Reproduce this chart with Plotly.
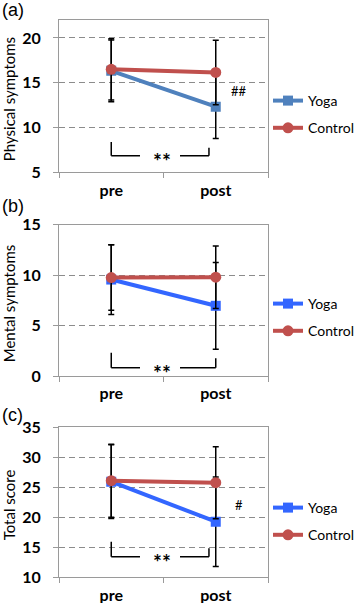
import plotly.graph_objects as go

# ---------------- data ----------------
categories = ["pre", "post"]
series_names = ["Yoga", "Control"]

phys_yoga = [16.33, 12.33]
phys_yoga_err = [3.45, 3.55]
phys_ctrl = [16.5, 16.15]
phys_ctrl_err = [3.42, 3.6]

ment_yoga = [9.55, 6.95]
ment_yoga_err = [3.45, 4.3]
ment_ctrl = [9.75, 9.78]
ment_ctrl_err = [3.25, 3.1]

total_yoga = [25.93, 19.27]
total_yoga_err = [6.15, 7.45]
total_ctrl = [26.1, 25.77]
total_ctrl_err = [6.08, 6.0]

y_titles = ["Physical symptoms", "Mental symptoms", "Total score"]
panel_labels = ["(a)", "(b)", "(c)"]
y_ranges = [[5, 22], [0, 15], [10, 35]]
y_tickvals = [[5, 10, 15, 20], [0, 5, 10, 15], [10, 15, 20, 25, 30, 35]]
sig_within = ["**", "**", "**"]
sig_between = ["##", "", "#"]

# bracket geometry per panel (data units): left-top y, right-top y, bottom y, right x
bracket_left_top = [8.38, 2.31, 15.93]
bracket_right_top = [7.74, 1.75, 14.83]
bracket_bottom = [6.86, 0.82, 13.43]
bracket_right_x = [0.935, 1.0, 0.935]
between_y = [14.08, None, 22.05]

panels = [
    (phys_yoga, phys_yoga_err, phys_ctrl, phys_ctrl_err),
    (ment_yoga, ment_yoga_err, ment_ctrl, ment_ctrl_err),
    (total_yoga, total_yoga_err, total_ctrl, total_ctrl_err),
]

# ---------------- style ----------------
W, H = 358, 603
FONT = "Lato"
yoga_colors = ["#4F81BD", "#3366FF", "#3366FF"]
ctrl_color = "#C0504D"
frame_color = "#9A9A9A"
grid_color = "#8C8C8C"

plot_left, plot_right = 59, 268
panel_tops = [20, 224.5, 427.3]
panel_bottoms = [172.3, 376, 577.3]
legend_tops = [85, 288, 492]
label_centers = [10, 206, 415]


def xd(px):
    return px / W


def yd(px):
    return 1 - px / H


xs = list(range(len(categories)))
fig = go.Figure()
shapes = []
annotations = []

for i, (yv, ye, cv, ce) in enumerate(panels):
    n = "" if i == 0 else str(i + 1)
    xa, ya = "x" + n, "y" + n
    lg = "legend" + n
    fig.add_trace(go.Scatter(
        x=xs, y=yv, name=series_names[0], xaxis=xa, yaxis=ya, legend=lg,
        legendgroup="yoga" + n,
        mode="lines+markers",
        line=dict(color=yoga_colors[i], width=4),
        marker=dict(symbol="square", size=10, color=yoga_colors[i]),
        error_y=dict(type="data", array=ye, color="black", thickness=1.5, width=3),
    ))
    fig.add_trace(go.Scatter(
        x=xs, y=cv, name=series_names[1], xaxis=xa, yaxis=ya, legend=lg,
        legendgroup="ctrl" + n,
        mode="lines+markers",
        line=dict(color=ctrl_color, width=4),
        marker=dict(symbol="circle", size=11, color=ctrl_color),
        error_y=dict(type="data", array=ce, color="black", thickness=1.5, width=3),
    ))

    xkey = "xaxis" + n
    ykey = "yaxis" + n
    fig.update_layout({
        xkey: dict(
            domain=[xd(plot_left), xd(plot_right)], anchor=ya,
            range=[-0.5, len(categories) - 0.5],
            tickmode="array", tickvals=xs, ticktext=categories,
            ticks="", showline=True, linecolor=frame_color, linewidth=1, mirror=True,
            showgrid=False, zeroline=False, fixedrange=True,
            tickfont=dict(family=FONT, size=16, color="black", weight="bold"),
            ticklabelstandoff=3,
            minor=dict(tickmode="array", tickvals=[-0.5, 0.5, 1.5], ticks="outside",
                       ticklen=5, tickcolor=frame_color, tickwidth=1, showgrid=False),
        ),
        ykey: dict(
            domain=[yd(panel_bottoms[i]), yd(panel_tops[i])], anchor=xa,
            range=y_ranges[i], tickmode="array", tickvals=y_tickvals[i],
            ticks="outside", ticklen=5, tickcolor=frame_color, tickwidth=1,
            showline=True, linecolor=frame_color, linewidth=1, mirror=True,
            showgrid=True, gridcolor=grid_color, gridwidth=1, griddash="6px,4px",
            zeroline=False, fixedrange=True,
            tickfont=dict(family=FONT, size=16, color="black", weight="bold"),
            ticklabelstandoff=9,
        ),
        lg: dict(
            x=xd(268), y=yd(legend_tops[i]), xanchor="left", yanchor="top",
            bgcolor="rgba(0,0,0,0)", borderwidth=0,
            font=dict(family=FONT, size=14, color="black"),
            itemwidth=30, tracegroupgap=6, traceorder="grouped",
        ),
    })

    # significance bracket
    lt, rt, bt, rx = bracket_left_top[i], bracket_right_top[i], bracket_bottom[i], bracket_right_x[i]
    segs = [
        (0, lt, 0, bt),
        (0, bt, 0.275, bt),
        (0.658, bt, rx, bt),
        (rx, bt, rx, rt),
    ]
    for (x0, y0, x1, y1) in segs:
        shapes.append(dict(type="line", xref=xa, yref=ya, x0=x0, y0=y0, x1=x1, y1=y1,
                           line=dict(color="black", width=1.5)))
    annotations.append(dict(
        xref=xa, yref=ya, x=0.486, y=bt, text=sig_within[i], showarrow=False,
        xanchor="center", yanchor="middle", yshift=-5,
        font=dict(family=FONT, size=21, color="black", weight="bold"),
    ))
    if sig_between[i]:
        annotations.append(dict(
            xref=xa, yref=ya, x=1.225, y=between_y[i], text=sig_between[i], showarrow=False,
            xanchor="center", yanchor="middle",
            font=dict(family=FONT, size=13, color="black"),
        ))

    # y title
    annotations.append(dict(
        xref="paper", yref="paper", x=xd(9), y=yd((panel_tops[i] + panel_bottoms[i]) / 2 + 3),
        text=y_titles[i], textangle=-90, showarrow=False,
        xanchor="center", yanchor="middle",
        font=dict(family=FONT, size=15, color="black"),
    ))
    # panel label
    annotations.append(dict(
        xref="paper", yref="paper", x=xd(0), y=yd(label_centers[i]),
        text=panel_labels[i], showarrow=False, xanchor="left", yanchor="middle",
        font=dict(family="Liberation Sans", size=18, color="black"),
    ))

fig.update_layout(
    width=W, height=H,
    margin=dict(l=0, r=0, t=0, b=0, autoexpand=False),
    paper_bgcolor="white", plot_bgcolor="white",
    shapes=shapes, annotations=annotations,
    showlegend=True,
)

fig.write_html("out.html", config={"displayModeBar": False},
               post_script="document.body.style.margin='0px';")
